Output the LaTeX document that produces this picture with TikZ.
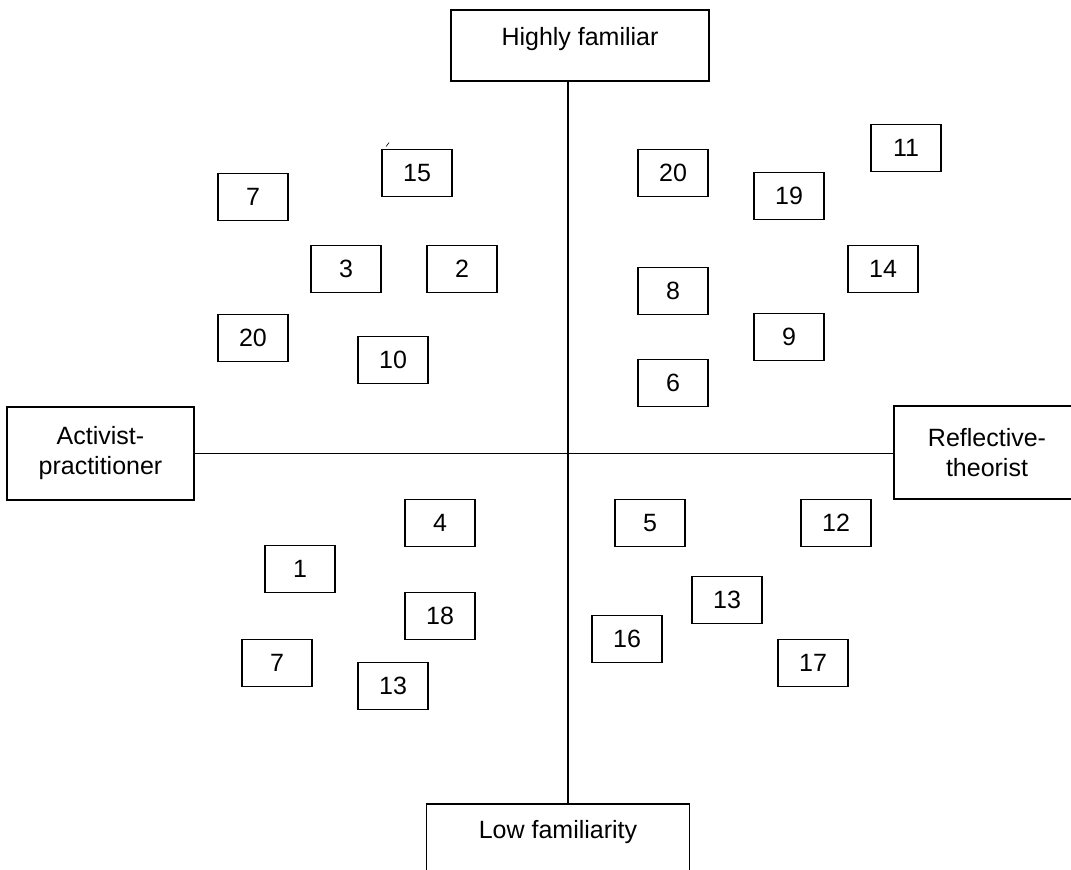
\documentclass[tikz,border=0pt]{standalone}
\usepackage{fontspec}
\setmainfont{Liberation Sans}
\usetikzlibrary{positioning}

\begin{document}
\begin{tikzpicture}[x=1pt, y=-1pt, font=\fontsize{25}{30}\selectfont,
    pole/.style={draw, line width=1.9pt, inner sep=0pt, align=center},
    item/.style={draw, line width=1.9pt, minimum width=70pt, minimum height=47pt, inner sep=0pt}]
    \clip (0,0) rectangle (1071,870);
    % the four poles
    \node[pole, anchor=north, minimum width=258pt, text height=36pt, text depth=35pt] (high) at (580,9) {Highly familiar};
    \node[pole, anchor=north, minimum width=263pt, text height=35pt, text depth=45pt] (low) at (558,803) {Low familiarity};
    \node[pole, minimum width=187pt, minimum height=93pt] (act) at (100.5,453.5) {Activist-\\practitioner};
    \node[pole, minimum width=186pt, minimum height=93pt] (refl) at (987,452.5) {Reflective-\\theorist};
    \coordinate (origin) at (568,453);
    \draw[line width=1.6pt] (high.south -| origin) -- (low.north -| origin);
    \draw[line width=1.6pt] (act.east) -- (refl.west |- act.east);
    % top left
    \node[item] (tl7) at (253,197) {7};
    \node[item] (tl15) at (417,173) {15};
    \draw[line width=0.6pt] ([shift={(5,-2)}]tl15.north west) -- ++(3,-4);
    \node[item] (tl3) at (346,269) {3};
    \node[item] (tl2) at (462,269) {2};
    \node[item] (tl20) at (253,338) {20};
    \node[item] (tl10) at (393,360) {10};
    % top right
    \node[item] (tr20) at (673,173) {20};
    \node[item] (tr19) at (789,196) {19};
    \node[item] (tr11) at (906,148) {11};
    \node[item] (tr14) at (883,269) {14};
    \node[item] (tr8) at (673,291) {8};
    \node[item] (tr9) at (789,337) {9};
    \node[item] (tr6) at (673,383) {6};
    % bottom left
    \node[item] (bl4) at (440,523) {4};
    \node[item] (bl1) at (300,569) {1};
    \node[item] (bl18) at (440,616) {18};
    \node[item] (bl7) at (277,663) {7};
    \node[item] (bl13) at (393,686) {13};
    % bottom right
    \node[item] (br5) at (650,523) {5};
    \node[item] (br12) at (836,523) {12};
    \node[item] (br13) at (727,600) {13};
    \node[item] (br16) at (627,639) {16};
    \node[item] (br17) at (813,663) {17};
\end{tikzpicture}
\end{document}
